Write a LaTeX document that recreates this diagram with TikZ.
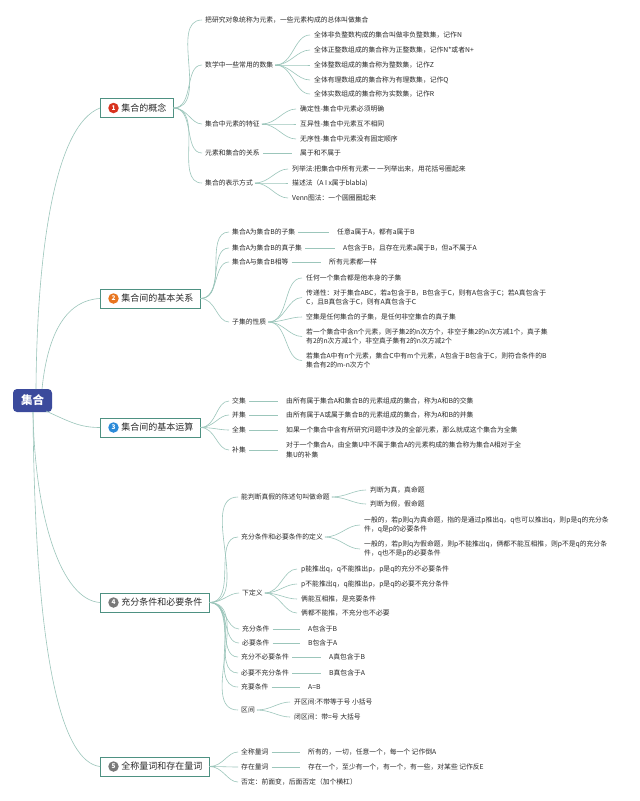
\documentclass[tikz,border=0pt]{standalone}
\usepackage{fontspec}
\setmainfont{Noto Sans CJK SC}
\definecolor{lineC}{HTML}{9CC6BB}
\definecolor{boxC}{HTML}{4E9182}
\definecolor{rootC}{HTML}{3B4A9C}
\definecolor{txtC}{HTML}{2A2A2A}
\definecolor{icRed}{HTML}{D8321E}
\definecolor{icOrange}{HTML}{E8751F}
\definecolor{icBlue}{HTML}{2C8BD9}
\definecolor{icGrey}{HTML}{7A7A7A}
\tikzset{
  conn/.style={draw=lineC, line width=0.6pt},
  fan/.style={draw=lineC, line width=0.6pt, shorten <=2pt, shorten >=4pt},
  tfan/.style={draw=lineC, line width=0.6pt, shorten >=3pt},
  bar/.style={draw=lineC, line width=0.6pt, shorten <=3pt, shorten >=8pt},
  topic/.style={draw=boxC, line width=0.9pt, fill=white, text=txtC,
    font=\fontsize{9}{11}\selectfont, inner xsep=6.5pt, inner ysep=0pt,
    minimum height=19pt, anchor=west},
  leaf/.style={font=\fontsize{6.8}{9.3}\selectfont, inner xsep=0pt, inner ysep=1pt,
    anchor=west, align=left, text=txtC},
  icon/.style={circle, inner sep=0pt, minimum size=10.5pt, text=white,
    font=\fontsize{6.5}{7}\selectfont\bfseries},
}
\begin{document}
\begin{tikzpicture}[x=1pt,y=-1pt]
\useasboundingbox (0,0) rectangle (640,801);
\fill[white] (0,0) rectangle (640,801);

% root
\node[fill=rootC, rounded corners=4pt, minimum width=39pt, minimum height=23pt,
  text=white, inner sep=0pt, font=\fontsize{11.5}{12}\selectfont\bfseries] (root) at (32.5,400.5) {集合};
\coordinate (r1) at (36,389);
\coordinate (r2) at (42,389);
\coordinate (r3) at (46,411);
\coordinate (r4) at (33,412);

% topics
\node[topic] (t1) at (100,108) {\hspace{14.5pt}集合的概念};
\node[topic] (t2) at (100,298.5) {\hspace{14.5pt}集合间的基本关系};
\node[topic] (t3) at (100,427.5) {\hspace{14.5pt}集合间的基本运算};
\node[topic] (t4) at (100,602.5) {\hspace{14.5pt}充分条件和必要条件};
\node[topic] (t5) at (100,766.5) {\hspace{14.5pt}全称量词和存在量词};
\node[icon, fill=icRed] (i1) at ([xshift=13.5pt]t1.west) {1};
\node[icon, fill=icOrange] (i2) at ([xshift=13.5pt]t2.west) {2};
\node[icon, fill=icBlue] (i3) at ([xshift=13.5pt]t3.west) {3};
\node[icon, fill=icGrey] (i4) at ([xshift=13.5pt]t4.west) {4};
\node[icon, fill=icGrey] (i5) at ([xshift=13.5pt]t5.west) {5};

\draw[conn] (r1) .. controls (37,250) and (55,125) .. (t1.west);
\draw[conn] (r2) .. controls (48,330) and (68,300) .. (t2.west);
\draw[conn] (r3) .. controls (70,422) and (80,427.5) .. (t3.west);
\draw[conn] (r4) .. controls (35,520) and (62,600) .. (t4.west);
\draw[conn] (r4) .. controls (35,660) and (62,762) .. (t5.west);

% ---------- topic 1
\node[leaf] (a1) at (205,20) {把研究对象统称为元素，一些元素构成的总体叫做集合};
\node[leaf] (a2) at (205,65) {数学中一些常用的数集};
\node[leaf] (a3) at (205,124) {集合中元素的特征};
\node[leaf] (a4) at (205,153) {元素和集合的关系};
\node[leaf] (a5) at (205,183) {集合的表示方式};
\node[leaf] (a21) at (314,35) {全体非负整数构成的集合叫做非负整数集，记作N};
\node[leaf] (a22) at (314,50) {全体正整数组成的集合称为正整数集，记作N*或者N+};
\node[leaf] (a23) at (314,65) {全体整数组成的集合称为整数集，记作Z};
\node[leaf] (a24) at (314,80) {全体有理数组成的集合称为有理数集，记作Q};
\node[leaf] (a25) at (314,94) {全体实数组成的集合称为实数集，记作R};
\node[leaf] (a31) at (300,109) {确定性-集合中元素必须明确};
\node[leaf] (a32) at (300,124) {互异性-集合中元素互不相同};
\node[leaf] (a33) at (300,139) {无序性-集合中元素没有固定顺序};
\node[leaf] (a41) at (300,153) {属于和不属于};
\node[leaf] (a51) at (292,169) {列举法:把集合中所有元素一 一列举出来，用花括号圈起来};
\node[leaf] (a52) at (292,183) {描述法（A I x属于blabla)};
\node[leaf] (a53) at (292,198) {Venn图法：一个圆圈圈起来};
\foreach \c in {a1,a2,a3,a4,a5} \draw[tfan] (t1.east) to[out=0,in=180] (\c.west);
\foreach \c in {a21,a22,a23,a24,a25} \draw[fan] (a2.east) to[out=0,in=180] (\c.west);
\foreach \c in {a31,a32,a33} \draw[fan] (a3.east) to[out=0,in=180] (\c.west);
\draw[bar] (a4.east) -- (a41.west);
\foreach \c in {a51,a52,a53} \draw[fan] (a5.east) to[out=0,in=180] (\c.west);

% ---------- topic 2
\node[leaf] (b1) at (232,232) {集合A为集合B的子集};
\node[leaf] (b2) at (232,248) {集合A为集合B的真子集};
\node[leaf] (b3) at (232,262) {集合A与集合B相等};
\node[leaf] (b4) at (232,322) {子集的性质};
\node[leaf] (b1v) at (337,232) {任意a属于A，都有a属于B};
\node[leaf] (b2v) at (343,248) {A包含于B，且存在元素a属于B，但a不属于A};
\node[leaf] (b3v) at (329,262) {所有元素都一样};
\node[leaf] (b41) at (306,278) {任何一个集合都是他本身的子集};
\node[leaf] (b42) at (306,297.5) {传递性：对于集合ABC，若a包含于B，B包含于C，则有A包含于C；若A真包含于\\C，且B真包含于C，则有A真包含于C};
\node[leaf] (b43) at (306,317) {空集是任何集合的子集，是任何非空集合的真子集};
\node[leaf] (b44) at (306,336.5) {若一个集合中含n个元素，则子集2的n次方个，非空子集2的n次方减1个，真子集\\有2的n次方减1个，非空真子集有2的n次方减2个};
\node[leaf] (b45) at (306,360.5) {若集合A中有n个元素，集合C中有m个元素，A包含于B包含于C，则符合条件的B\\集合有2的m-n次方个};
\foreach \c in {b1,b2,b3,b4} \draw[tfan] (t2.east) to[out=0,in=180] (\c.west);
\draw[bar] (b1.east) -- (b1v.west);
\draw[bar] (b2.east) -- (b2v.west);
\draw[bar] (b3.east) -- (b3v.west);
\foreach \c in {b41,b42,b43,b44,b45} \draw[fan] (b4.east) to[out=0,in=180] (\c.west);

% ---------- topic 3
\node[leaf] (c1) at (232,401) {交集};
\node[leaf] (c2) at (232,415) {并集};
\node[leaf] (c3) at (232,430) {全集};
\node[leaf] (c4) at (232,450) {补集};
\node[leaf] (c1v) at (286,401) {由所有属于集合A和集合B的元素组成的集合，称为A和B的交集};
\node[leaf] (c2v) at (286,415) {由所有属于A或属于集合B的元素组成的集合，称为A和B的并集};
\node[leaf] (c3v) at (286,430) {如果一个集合中含有所研究问题中涉及的全部元素，那么就成这个集合为全集};
\node[leaf] (c4v) at (286,450) {对于一个集合A，由全集U中不属于集合A的元素构成的集合称为集合A相对于全\\集U的补集};
\foreach \c in {c1,c2,c3,c4} \draw[tfan] (t3.east) to[out=0,in=180] (\c.west);
\draw[bar] (c1.east) -- (c1v.west);
\draw[bar] (c2.east) -- (c2v.west);
\draw[bar] (c3.east) -- (c3v.west);
\draw[bar] (c4.east) -- (c4v.west);

% ---------- topic 4
\node[leaf] (d1) at (241,497) {能判断真假的陈述句叫做命题};
\node[leaf] (d2) at (241,537) {充分条件和必要条件的定义};
\node[leaf] (d3) at (242,593) {下定义};
\node[leaf] (d4) at (242,629) {充分条件};
\node[leaf] (d5) at (242,643) {必要条件};
\node[leaf] (d6) at (241,657) {充分不必要条件};
\node[leaf] (d7) at (241,673) {必要不充分条件};
\node[leaf] (d8) at (241,687) {充要条件};
\node[leaf] (d9) at (241,710) {区间};
\node[leaf] (d11) at (370,490) {判断为真，真命题};
\node[leaf] (d12) at (370,504) {判断为假，假命题};
\node[leaf] (d21) at (364,525) {一般的，若p则q为真命题，指的是通过p推出q，q也可以推出q，则p是q的充分条\\件，q是p的必要条件};
\node[leaf] (d22) at (364,549) {一般的，若p则q为假命题，则p不能推出q，俩都不能互相推，则p不是q的充分条\\件，q也不是p的必要条件};
\node[leaf] (d31) at (301,569) {p能推出q，q不能推出p，p是q的充分不必要条件};
\node[leaf] (d32) at (301,584) {p不能推出q，q能推出p，p是q的必要不充分条件};
\node[leaf] (d33) at (301,599) {俩能互相推，是充要条件};
\node[leaf] (d34) at (301,613) {俩都不能推，不充分也不必要};
\node[leaf] (d4v) at (308,629) {A包含于B};
\node[leaf] (d5v) at (308,643) {B包含于A};
\node[leaf] (d6v) at (329,657) {A真包含于B};
\node[leaf] (d7v) at (329,673) {B真包含于A};
\node[leaf] (d8v) at (308,687) {A=B};
\node[leaf] (d91) at (294,702) {开区间:不带等于号 小括号};
\node[leaf] (d92) at (294,717) {闭区间：带=号 大括号};
\foreach \c in {d1,d2,d3,d4,d5,d6,d7,d8,d9} \draw[tfan] (t4.east) to[out=0,in=180] (\c.west);
\foreach \c in {d11,d12} \draw[fan] (d1.east) to[out=0,in=180] (\c.west);
\foreach \c in {d21,d22} \draw[fan] (d2.east) to[out=0,in=180] (\c.west);
\foreach \c in {d31,d32,d33,d34} \draw[fan] (d3.east) to[out=0,in=180] (\c.west);
\draw[bar] (d4.east) -- (d4v.west);
\draw[bar] (d5.east) -- (d5v.west);
\draw[bar] (d6.east) -- (d6v.west);
\draw[bar] (d7.east) -- (d7v.west);
\draw[bar] (d8.east) -- (d8v.west);
\foreach \c in {d91,d92} \draw[fan] (d9.east) to[out=0,in=180] (\c.west);

% ---------- topic 5
\node[leaf] (e1) at (241,752) {全称量词};
\node[leaf] (e2) at (241,767) {存在量词};
\node[leaf] (e3) at (241,782) {否定：前面变，后面否定（加个横杠）};
\node[leaf] (e1v) at (308,752) {所有的，一切，任意一个，每一个 记作倒A};
\node[leaf] (e2v) at (308,767) {存在一个，至少有一个，有一个，有一些，对某些 记作反E};
\foreach \c in {e1,e2,e3} \draw[tfan] (t5.east) to[out=0,in=180] (\c.west);
\draw[bar] (e1.east) -- (e1v.west);
\draw[bar] (e2.east) -- (e2v.west);
\end{tikzpicture}
\end{document}
